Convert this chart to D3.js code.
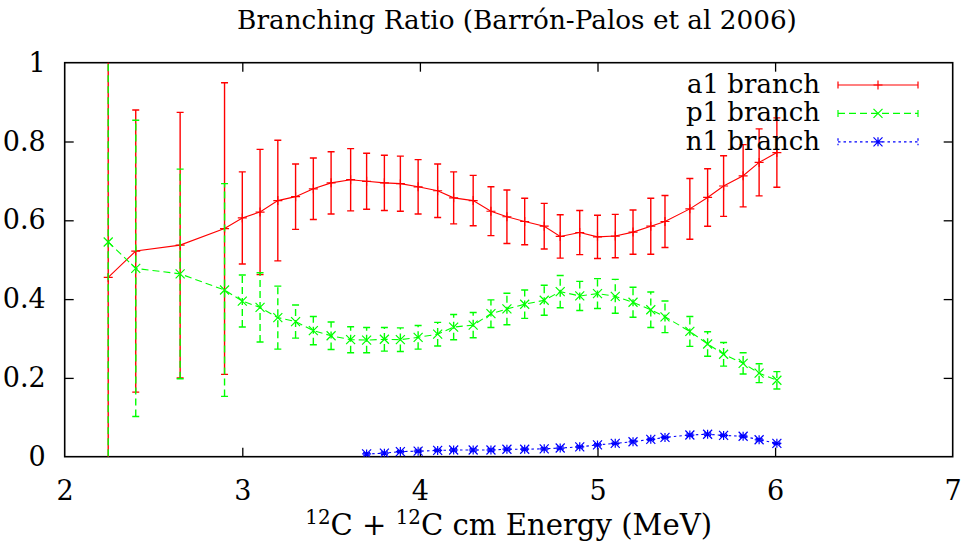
<!DOCTYPE html>
<html><head><meta charset="utf-8">
<script src="https://cdn.jsdelivr.net/npm/d3@7"></script>
<style>
body{margin:0;background:#fff}
text{font-family:"DejaVu Serif","Liberation Serif",serif;fill:#000}
</style>
</head><body>
<svg id="chart" width="964" height="546"></svg>
<script>
// ---- data ----
const energy = [2.245,2.40,2.65,2.90,3.00,3.10,3.20,3.30,3.40,3.50,3.61,3.70,3.80,3.89,3.99,4.10,4.19,4.30,4.40,4.49,4.59,4.70,4.79,4.90,5.00,5.10,5.20,5.30,5.38,5.52,5.62,5.71,5.82,5.91,6.01];
const a1 = [0.455,0.522,0.537,0.579,0.606,0.621,0.650,0.660,0.680,0.695,0.703,0.699,0.695,0.693,0.685,0.675,0.657,0.650,0.623,0.609,0.597,0.585,0.559,0.569,0.558,0.560,0.570,0.585,0.597,0.629,0.658,0.687,0.713,0.747,0.772];
const a1Err = [0.60,0.358,0.337,0.370,0.117,0.159,0.153,0.083,0.078,0.079,0.079,0.071,0.070,0.070,0.069,0.068,0.066,0.064,0.062,0.068,0.059,0.058,0.055,0.056,0.055,0.055,0.056,0.071,0.066,0.077,0.073,0.077,0.079,0.085,0.088];
const p1 = [0.545,0.478,0.464,0.423,0.395,0.379,0.353,0.343,0.320,0.307,0.297,0.296,0.298,0.297,0.303,0.311,0.329,0.334,0.363,0.375,0.387,0.397,0.419,0.408,0.414,0.407,0.392,0.373,0.355,0.318,0.286,0.260,0.237,0.212,0.194];
const p1Err = [0.60,0.376,0.266,0.270,0.066,0.088,0.080,0.042,0.036,0.035,0.033,0.032,0.030,0.030,0.030,0.030,0.032,0.032,0.035,0.040,0.036,0.038,0.041,0.037,0.038,0.043,0.038,0.045,0.040,0.038,0.031,0.030,0.027,0.024,0.022];
const n1Energy = [3.70,3.80,3.89,3.99,4.10,4.19,4.30,4.40,4.49,4.59,4.70,4.79,4.90,5.00,5.10,5.20,5.30,5.38,5.52,5.62,5.71,5.82,5.91,6.01];
const n1 = [0.007,0.009,0.013,0.014,0.016,0.017,0.017,0.017,0.019,0.019,0.020,0.022,0.025,0.030,0.034,0.038,0.044,0.049,0.055,0.057,0.054,0.052,0.043,0.034];
const n1Err = [0.003,0.003,0.003,0.003,0.003,0.003,0.003,0.003,0.003,0.003,0.003,0.003,0.003,0.003,0.003,0.003,0.003,0.003,0.003,0.003,0.003,0.003,0.003,0.003];
const xTicks = [2,3,4,5,6,7];
const yTicks = [0,0.2,0.4,0.6,0.8,1];
const yTickLabels = ["0","0.2","0.4","0.6","0.8","1"];
const seriesNames = ["a1 branch","p1 branch","n1 branch"];
const titleText = "Branching Ratio (Barrón-Palos et al 2006)";

// ---- layout ----
const svg = d3.select("#chart");
const L = 64.7, R = 952.7, T = 62.7, B = 456.7;
const x = d3.scaleLinear().domain([2,7]).range([L,R]);
const y = d3.scaleLinear().domain([0,1]).range([B,T]);
const FS = 27;

function fit(sel, target){
  const w = sel.node().getComputedTextLength();
  const fs = +sel.attr("font-size");
  sel.attr("font-size", fs*target/w);
}

svg.append("defs").append("clipPath").attr("id","clip")
  .append("rect").attr("x",L).attr("y",T).attr("width",R-L).attr("height",B-T);

// axes with inward ticks
const tk = 9;
const gx = svg.append("g").attr("transform",`translate(0,${B})`)
  .call(d3.axisBottom(x).tickValues(xTicks).tickFormat(d3.format("d")).tickSize(-tk).tickPadding(tk+15));
const gxt = svg.append("g").attr("transform",`translate(0,${T})`)
  .call(d3.axisTop(x).tickValues(xTicks.slice(1,-1)).tickFormat("").tickSize(-tk));
const gy = svg.append("g").attr("transform",`translate(${L},0)`)
  .call(d3.axisLeft(y).tickValues(yTicks).tickFormat((d,i)=>yTickLabels[i]).tickSize(-tk).tickPadding(tk+10));
const gyr = svg.append("g").attr("transform",`translate(${R},0)`)
  .call(d3.axisRight(y).tickValues(yTicks.slice(1,-1)).tickFormat("").tickSize(-tk));
[gx,gxt,gy,gyr].forEach(g=>{
  g.select(".domain").remove();
  g.attr("font-family",null).attr("font-size",null);
  g.selectAll(".tick line").attr("stroke","#000").attr("stroke-width",1.3);
  g.selectAll(".tick text").attr("font-size",FS);
});
gx.selectAll(".tick line").filter(d=>d===2||d===7).remove();
gy.selectAll(".tick line").filter(d=>d===0||d===1).remove();

svg.append("rect").attr("x",L).attr("y",T).attr("width",R-L).attr("height",B-T)
  .attr("fill","none").attr("stroke","#000").attr("stroke-width",1.6);

// title & labels
const title = svg.append("text").attr("x",517).attr("y",29).attr("text-anchor","middle")
  .attr("font-size",FS).text(titleText);
fit(title,560);
const xl = svg.append("text").attr("x",(L+R)/2).attr("y",535).attr("text-anchor","middle").attr("font-size",FS);
xl.append("tspan").attr("font-size",FS*0.68).attr("dy",-10).text("12");
xl.append("tspan").attr("dy",10).text("C + ");
xl.append("tspan").attr("font-size",FS*0.68).attr("dy",-10).text("12");
xl.append("tspan").attr("dy",10).text("C cm Energy (MeV)");
{
  const w = xl.node().getComputedTextLength();
  const k = 407/w;
  xl.attr("font-size",FS*k);
  xl.selectAll("tspan").each(function(d,i){
    const t=d3.select(this);
    if(i%2===0) t.attr("font-size",FS*0.68*k).attr("dy",-10*k);
    else t.attr("font-size",FS*k).attr("dy",10*k);
  });
}

// series
const series = [
  {name:seriesNames[0], xs:energy, v:a1, e:a1Err, color:"#ff0000", dash:null, mark:"plus"},
  {name:seriesNames[1], xs:energy, v:p1, e:p1Err, color:"#00ff00", dash:"7,4", mark:"cross"},
  {name:seriesNames[2], xs:n1Energy, v:n1, e:n1Err, color:"#0000ff", dash:"2.5,3", mark:"star"}
];

function marker(g, cx, cy, type, color){
  const s = 4.5;
  const p = d3.path();
  if(type==="plus"||type==="star"){p.moveTo(cx-s,cy);p.lineTo(cx+s,cy);p.moveTo(cx,cy-s);p.lineTo(cx,cy+s);}
  if(type==="cross"||type==="star"){p.moveTo(cx-s,cy-s);p.lineTo(cx+s,cy+s);p.moveTo(cx-s,cy+s);p.lineTo(cx+s,cy-s);}
  g.append("path").attr("d",p.toString()).attr("stroke",color).attr("stroke-width",1.2).attr("fill","none");
}

const plot = svg.append("g").attr("clip-path","url(#clip)");
series.forEach(s=>{
  const g = plot.append("g");
  const cap = 3.5;
  s.xs.forEach((xv,i)=>{
    const px = x(xv), lo = y(s.v[i]-s.e[i]), hi = y(s.v[i]+s.e[i]);
    const eb = d3.path();
    eb.moveTo(px,lo); eb.lineTo(px,hi);
    eb.moveTo(px-cap,lo); eb.lineTo(px+cap,lo);
    eb.moveTo(px-cap,hi); eb.lineTo(px+cap,hi);
    g.append("path").attr("d",eb.toString()).attr("stroke",s.color).attr("stroke-width",1.4)
      .attr("fill","none").attr("stroke-dasharray",s.dash);
  });
  const line = d3.line().x((d,i)=>x(s.xs[i])).y(d=>y(d));
  g.append("path").attr("d",line(s.v)).attr("stroke",s.color).attr("stroke-width",1.1)
    .attr("fill","none").attr("stroke-dasharray",s.dash);
  s.xs.forEach((xv,i)=>marker(g,x(xv),y(s.v[i]),s.mark,s.color));
});

// legend
const lg = svg.append("g");
let lfs = null;
series.forEach((s,i)=>{
  const ly = 85 + i*28.4;
  const t = lg.append("text").attr("x",820).attr("y",ly+8).attr("text-anchor","end").attr("font-size",FS).text(s.name);
  if(lfs===null){ fit(t,133); lfs = +t.attr("font-size"); }
  t.attr("font-size",lfs);
  const p = d3.path();
  p.moveTo(838,ly);p.lineTo(918,ly);
  p.moveTo(838,ly-3.5);p.lineTo(838,ly+3.5);
  p.moveTo(918,ly-3.5);p.lineTo(918,ly+3.5);
  lg.append("path").attr("d",p.toString()).attr("stroke",s.color).attr("stroke-width",1.2)
    .attr("fill","none").attr("stroke-dasharray",s.dash);
  marker(lg,878,ly,s.mark,s.color);
});
</script>
</body></html>
